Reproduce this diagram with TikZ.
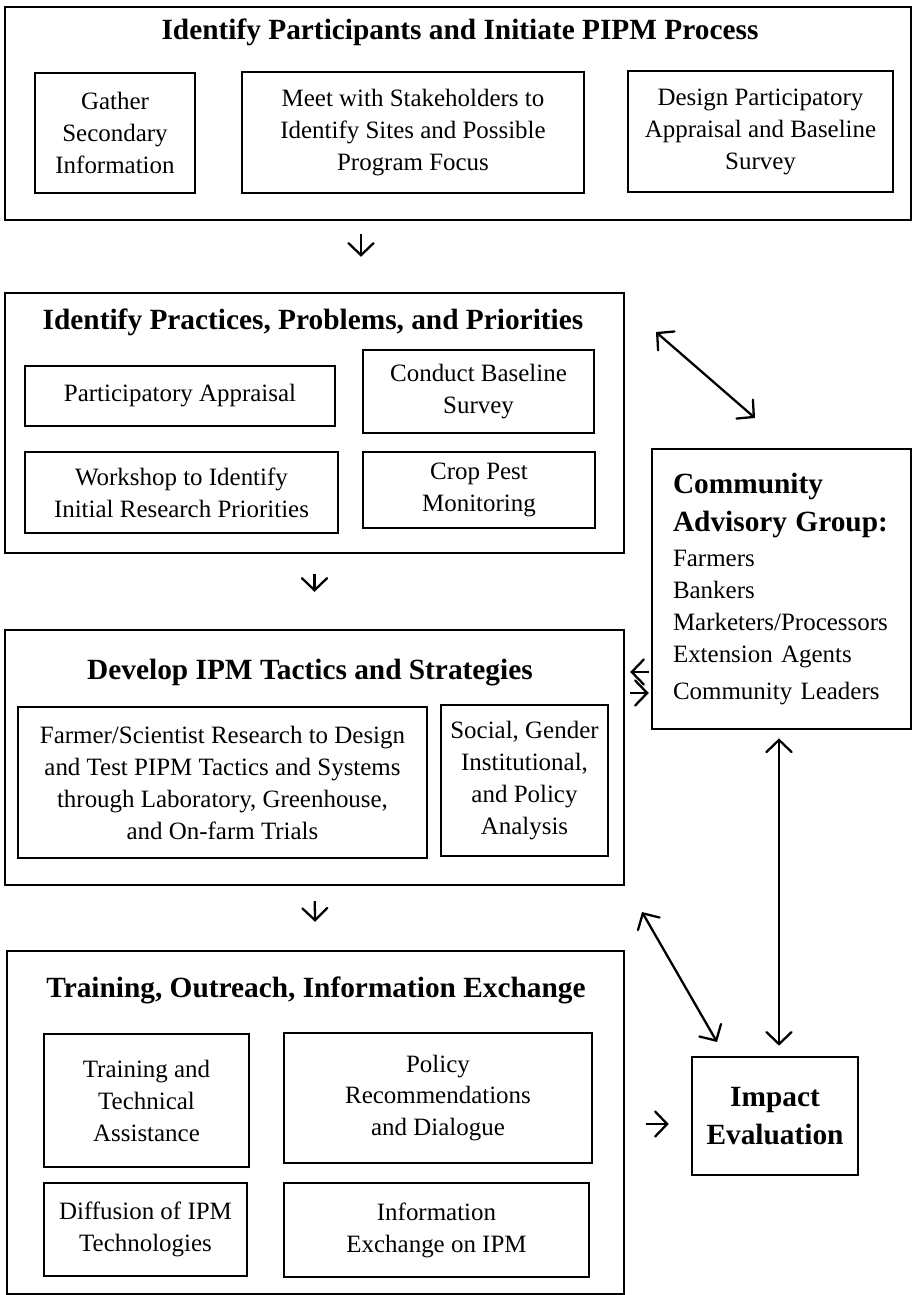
\documentclass[tikz,border=0pt]{standalone}
\usepackage{fontspec}
\setmainfont{Liberation Serif}
\usetikzlibrary{arrows.meta}

\begin{document}
\begin{tikzpicture}[x=0.02cm, y=-0.02cm,
  font=\fontsize{14.2}{18.2}\selectfont,
  box/.style={draw, line width=1.5pt, inner sep=0pt, align=center},
  head/.style={font=\fontsize{16.7}{21.6}\selectfont\bfseries, align=center},
  flow/.style={line width=1.3pt, -{Straight Barb[length=2.4mm,width=5mm,line cap=round]}},
  twoway/.style={line width=1.3pt, {Straight Barb[length=2.4mm,width=5mm,line cap=round]}-{Straight Barb[length=2.4mm,width=5mm,line cap=round]}}]
  \useasboundingbox (0,0) rectangle (913,1295);

  % stage 1
  \node[box, minimum width=18.12cm, minimum height=4.26cm] (stage1) at (458,113.5) {};
  \node[head] (title1) at (460,32) {Identify Participants and Initiate PIPM Process};
  \node[box, minimum width=3.2cm, minimum height=2.4cm] (gather) at (115,133) {Gather\\Secondary\\Information};
  \node[box, minimum width=6.84cm, minimum height=2.42cm] (meet) at (413,132.5) {Meet with Stakeholders to\\Identify Sites and Possible\\Program Focus};
  \node[box, minimum width=5.3cm, minimum height=2.42cm] (design) at (760.5,131.5) {Design Participatory\\Appraisal and Baseline\\Survey};

  % stage 2
  \node[box, minimum width=12.38cm, minimum height=5.2cm] (stage2) at (314.5,423) {};
  \node[head] (title2) at (313,322) {Identify Practices, Problems, and Priorities};
  \node[box, minimum width=6.2cm, minimum height=1.2cm] (appraisal) at (180,396) {Participatory Appraisal};
  \node[box, minimum width=4.62cm, minimum height=1.66cm] (baseline) at (478.5,391.5) {Conduct Baseline\\Survey};
  \node[box, minimum width=6.26cm, minimum height=1.62cm] (workshop) at (181.5,492.5) {Workshop to Identify\\Initial Research Priorities};
  \node[box, minimum width=4.64cm, minimum height=1.52cm] (croppest) at (479,490) {Crop Pest\\Monitoring};

  % stage 3
  \node[box, minimum width=12.38cm, minimum height=5.1cm] (stage3) at (314.5,757.5) {};
  \node[head] (title3) at (310,673) {Develop IPM Tactics and Strategies};
  \node[box, minimum width=8.18cm, minimum height=3.02cm] (research) at (222.5,782.5) {Farmer/Scientist Research to Design\\and Test PIPM Tactics and Systems\\through Laboratory, Greenhouse,\\and On-farm Trials};
  \node[box, minimum width=3.34cm, minimum height=3.02cm] (social) at (524.5,780.5) {Social, Gender\\Institutional,\\and Policy\\Analysis};

  % stage 4
  \node[box, minimum width=12.34cm, minimum height=6.86cm] (stage4) at (315.5,1122.5) {};
  \node[head] (title4) at (316,990) {Training, Outreach, Information Exchange};
  \node[box, minimum width=4.1cm, minimum height=2.66cm] (training) at (146.5,1100.5) {Training and\\Technical\\Assistance};
  \node[box, minimum width=6.16cm, minimum height=2.6cm] (policy) at (438,1098) {Policy\\Recommendations\\and Dialogue};
  \node[box, minimum width=4.06cm, minimum height=1.86cm] (diffusion) at (145.5,1229.5) {Diffusion of IPM\\Technologies};
  \node[box, minimum width=6.1cm, minimum height=1.88cm] (infoex) at (436.5,1230) {Information\\Exchange on IPM};

  % side boxes
  \node[box, minimum width=5.18cm, minimum height=5.6cm, text width=4.34cm, align=left] (cag) at (781.5,589)
    {{\fontsize{16.7}{21.6}\selectfont\bfseries Community\\[3.4pt]Advisory Group:}\\[1.7pt]
     Farmers\\Bankers\\Marketers/Processors\\Extension Agents\\[2.8pt]Community Leaders};
  \node[box, head, minimum width=3.32cm, minimum height=2.36cm] (impact) at (775,1116) {Impact\\Evaluation};

  % arrows
  \draw[flow, shorten <=7.4pt, shorten >=19.9pt] (361,0 |- stage1.south) -- (361,0 |- stage2.north);
  \draw[flow, shorten <=11.4pt, shorten >=21pt] (stage2.south) -- (stage3.north);
  \draw[flow, shorten <=8.5pt, shorten >=15.9pt] (stage3.south) -- (stage4.north);
  \draw[flow, shorten <=1.1pt, shorten >=2.8pt] (cag.west |- 0,672) -- (stage3.east |- 0,672);
  \draw[flow, shorten <=2.8pt, shorten >=1.1pt] (stage3.east |- 0,693) -- (cag.west |- 0,693);
  \draw[twoway, shorten <=4.6pt, shorten >=5.7pt] (779,0 |- cag.south) -- (779,0 |- impact.north);
  \draw[flow, shorten <=12pt, shorten >=12.5pt] (stage4.east |- 0,1124) -- (impact.west |- 0,1124);
  \coordinate (up1) at (656,332);
  \coordinate (up2) at (755,418);
  \coordinate (lo1) at (642,912);
  \coordinate (lo2) at (717,1042);
  \draw[twoway] (up1) -- (up2);
  \draw[twoway] (lo1) -- (lo2);
\end{tikzpicture}
\end{document}
